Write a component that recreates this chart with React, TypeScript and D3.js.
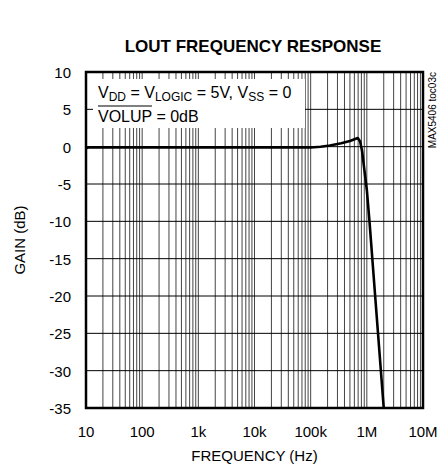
import { useEffect, useRef } from 'react'
import * as d3 from 'd3'

// Frequency response (Hz, dB)
const freqHz = [10, 11, 15, 30, 100, 1000, 10000, 50000, 100000, 150000, 220000, 350000, 500000, 690000, 760000, 820000, 1000000, 1120000, 1410000, 2000000]
const gainDb = [-0.2, -0.1, -0.1, -0.1, -0.1, -0.1, -0.1, -0.1, -0.12, -0.02, 0.15, 0.45, 0.75, 1.15, 0.7, -0.5, -5.8, -10.2, -20.1, -35]

const xTicks = [10, 100, 1e3, 1e4, 1e5, 1e6, 1e7]
const xTickLabels = ['10', '100', '1k', '10k', '100k', '1M', '10M']
const yTicks = [10, 5, 0, -5, -10, -15, -20, -25, -30, -35]

const FONT = 'Arial, "Liberation Sans", sans-serif'

export default function App() {
  const svgRef = useRef<SVGSVGElement>(null)

  useEffect(() => {
    const svgEl = svgRef.current
    if (!svgEl) return

    const width = 446
    const height = 467
    const margin = { top: 72, right: 23, bottom: 59, left: 86 }
    const innerW = width - margin.left - margin.right
    const innerH = height - margin.top - margin.bottom

    const x = d3.scaleLog().domain([10, 1e7]).range([0, innerW])
    const y = d3.scaleLinear().domain([-35, 10]).range([innerH, 0])

    const svg = d3.select(svgEl)
    svg.attr('width', width).attr('height', height).selectAll('*').remove()
    svg.append('rect').attr('width', width).attr('height', height).style('fill', '#fff')

    const g = svg.append('g').attr('transform', `translate(${margin.left},${margin.top})`)

    // vertical log grid (1..9 per decade)
    const minor: number[] = []
    for (let p = 1; p < 7; p++) {
      for (let m = 1; m < 10; m++) minor.push(m * Math.pow(10, p))
    }
    g.append('g')
      .selectAll('line')
      .data(minor)
      .join('line')
      .attr('x1', d => x(d)).attr('x2', d => x(d))
      .attr('y1', 0).attr('y2', innerH)
      .style('stroke', '#444').style('stroke-width', '1')

    // horizontal grid
    g.append('g')
      .selectAll('line')
      .data(yTicks)
      .join('line')
      .attr('x1', 0).attr('x2', innerW)
      .attr('y1', d => y(d)).attr('y2', d => y(d))
      .style('stroke', '#000').style('stroke-width', '1')

    // legend box (covers grid)
    g.append('rect')
      .attr('x', 7).attr('y', 7)
      .attr('width', 212).attr('height', 49)
      .style('fill', '#fff')

    const l1 = g.append('text')
      .attr('x', 12).attr('y', 26)
      .style('font-family', FONT).style('font-size', '16px')
    l1.append('tspan').text('V')
    l1.append('tspan').attr('dy', 3).style('font-size', '12px').text('DD')
    l1.append('tspan').attr('dy', -3).text(' = V')
    l1.append('tspan').attr('dy', 3).style('font-size', '12px').text('LOGIC')
    l1.append('tspan').attr('dy', -3).text(' = 5V, V')
    l1.append('tspan').attr('dy', 3).style('font-size', '12px').text('SS')
    l1.append('tspan').attr('dy', -3).text(' = 0')

    const l2 = g.append('text')
      .attr('x', 12).attr('y', 50)
      .style('font-family', FONT).style('font-size', '16px')
      .text('VOLUP = 0dB')
    const overW = (l2.node() as SVGTextElement).getSubStringLength(0, 5)
    g.append('line')
      .attr('x1', 12).attr('x2', 12 + overW)
      .attr('y1', 34).attr('y2', 34)
      .style('stroke', '#000').style('stroke-width', '1.2')

    // curve
    const pts = freqHz.map((f, i) => [f, gainDb[i]] as [number, number])
    const line = d3.line<[number, number]>()
      .x(d => x(d[0]))
      .y(d => y(d[1]))

    g.append('clipPath').attr('id', 'plot-clip')
      .append('rect').attr('width', innerW).attr('height', innerH)

    g.append('path')
      .datum(pts)
      .attr('clip-path', 'url(#plot-clip)')
      .attr('d', line)
      .style('fill', 'none')
      .style('stroke', '#000')
      .style('stroke-width', '2.6')
      .style('stroke-linejoin', 'round')

    // frame
    g.append('rect')
      .attr('width', innerW).attr('height', innerH)
      .style('fill', 'none').style('stroke', '#000').style('stroke-width', '2.5')

    // tick labels
    g.append('g')
      .selectAll('text')
      .data(xTicks)
      .join('text')
      .attr('x', d => x(d))
      .attr('y', innerH + 29)
      .attr('text-anchor', 'middle')
      .style('font-family', FONT).style('font-size', '15px')
      .text((_, i) => xTickLabels[i])

    g.append('g')
      .selectAll('text')
      .data(yTicks)
      .join('text')
      .attr('x', -15)
      .attr('y', d => y(d) + 6)
      .attr('text-anchor', 'end')
      .style('font-family', FONT).style('font-size', '15px')
      .text(d => `${d}`)

    // axis titles
    svg.append('text')
      .attr('x', margin.left + innerW / 2)
      .attr('y', 461)
      .attr('text-anchor', 'middle')
      .style('font-family', FONT).style('font-size', '15px')
      .text('FREQUENCY (Hz)')

    svg.append('text')
      .attr('transform', `translate(25,${margin.top + innerH / 2}) rotate(-90)`)
      .attr('text-anchor', 'middle')
      .style('font-family', FONT).style('font-size', '15px')
      .text('GAIN (dB)')

    svg.append('text')
      .attr('x', 253)
      .attr('y', 52)
      .attr('text-anchor', 'middle')
      .style('font-family', FONT).style('font-size', '17px').style('font-weight', 'bold')
      .text('LOUT FREQUENCY RESPONSE')

    svg.append('text')
      .attr('transform', `translate(436,${margin.top}) rotate(-90)`)
      .attr('text-anchor', 'end')
      .style('font-family', FONT).style('font-size', '10px')
      .text('MAX5406 toc03c')
  }, [])

  return (
    <div style={{ position: 'absolute', left: 0, top: 0 }}>
      <svg ref={svgRef} style={{ display: 'block' }} />
    </div>
  )
}
